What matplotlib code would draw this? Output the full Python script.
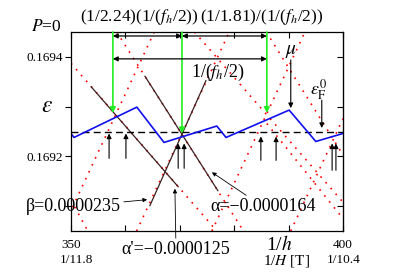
import matplotlib
matplotlib.use("Agg")
import matplotlib.pyplot as plt

plt.rcParams['font.family'] = 'Liberation Serif'
plt.rcParams['mathtext.fontset'] = 'stix'

# axes range: x is 1/h, y is energy
x_lim = [350, 400]
y_lim = [0.16905, 0.16945]
x_ticks = [350, 360, 370, 380, 390, 400]
y_ticks = [0.1691, 0.1692, 0.1693, 0.1694]

# Fermi level at P=0
eps_f0 = 0.169249

# chemical potential mu (blue sawtooth)
mu_x = [350.0, 350.55, 362.1, 367.1, 376.8, 378.5, 390.1, 395.0, 400.0]
mu_y = [0.169246, 0.169238, 0.169299, 0.169228, 0.169261, 0.169238,
        0.169293, 0.169230, 0.169246]

# Landau levels (red dotted), end points of each level line
lvl_x0 = [350.0, 358.4, 365.3, 350.0, 362.06, 372.7, 385.9, 386.0, 375.9, 390.4]
lvl_y0 = [0.169387, 0.16945, 0.16945, 0.169112, 0.16905, 0.16945, 0.16945,
          0.169266, 0.16905, 0.16905]
lvl_x1 = [376.8, 381.7, 350.0, 353.1, 379.1, 400.0, 400.0, 400.0, 393.0, 400.0]
lvl_y1 = [0.16905, 0.16905, 0.169091, 0.16905, 0.16945, 0.169108, 0.169203,
          0.169075, 0.16945, 0.169276]

# levels with slope alpha', alpha, beta (black solid parts)
seg_x0 = [353.7, 363.6, 364.5]
seg_y0 = [0.169340, 0.169361, 0.169101]
seg_x1 = [369.7, 377.0, 374.8]
seg_y1 = [0.169139, 0.169131, 0.169352]

# green arrows: crossing points of levels
cross_x = [357.7, 370.4, 386.0]
cross_y = [0.169287, 0.169246, 0.169287]

# short black arrows below the Fermi level
up_x = [357.0, 360.1, 369.7, 370.8, 384.9, 387.7, 398.0, 398.7]
up_y0 = [0.169196, 0.169196, 0.169176, 0.169176, 0.169192, 0.169192,
         0.169172, 0.169172]
up_y1 = [0.169246, 0.169246, 0.169226, 0.169226, 0.169240, 0.169240,
         0.169226, 0.169226]

fig = plt.figure(figsize=(3.99, 2.78), dpi=100)
ax = fig.add_axes([71 / 399, 47 / 278, 272 / 399, 199 / 278])

for i in range(len(lvl_x0)):
    ax.plot([lvl_x0[i], lvl_x1[i]], [lvl_y0[i], lvl_y1[i]], color='red',
            lw=1.2, linestyle=(0, (1, 3.6)))
for i in range(len(seg_x0)):
    ax.plot([seg_x0[i], seg_x1[i]], [seg_y0[i], seg_y1[i]], color='#3a2020', lw=0.9)

ax.axhline(eps_f0, color='k', lw=1.0, linestyle=(0, (5, 3)))
ax.plot(mu_x, mu_y, color='#1010ee', lw=1.2)

arr = dict(arrowstyle='-|>', color='k', lw=0.8, mutation_scale=7,
           shrinkA=0, shrinkB=0)
for i in range(len(up_x)):
    ax.annotate('', xy=(up_x[i], up_y1[i]), xytext=(up_x[i], up_y0[i]),
                arrowprops=arr)

garr = dict(arrowstyle='-|>', color='#22ee22', lw=1.2, mutation_scale=8,
            shrinkA=0, shrinkB=0)
for i in range(len(cross_x)):
    ax.annotate('', xy=(cross_x[i], cross_y[i]), xytext=(cross_x[i], y_lim[1]),
                arrowprops=garr)

darr = dict(arrowstyle='<|-|>', color='k', lw=0.9, mutation_scale=7,
            shrinkA=0, shrinkB=0)
ax.annotate('', xy=(cross_x[1], 0.169442), xytext=(cross_x[0], 0.169442),
            arrowprops=darr)
ax.annotate('', xy=(cross_x[2], 0.169442), xytext=(cross_x[1], 0.169442),
            arrowprops=darr)
ax.annotate('', xy=(cross_x[2], 0.169396), xytext=(cross_x[0], 0.169396),
            arrowprops=darr)
ax.text(377.0, 0.169368, r'1/($f_h$/2)', fontsize=13, ha='center', va='center')

# mu and eps_F labels
ax.annotate('', xy=(390.4, 0.169297), xytext=(390.4, 0.169394), arrowprops=arr)
ax.text(390.4, 0.169410, r'$\mu$', fontsize=14, ha='center', va='center')
ax.annotate('', xy=(396.1, 0.169257), xytext=(396.1, 0.169313), arrowprops=arr)
ax.text(395.5, 0.169335, r'$\varepsilon_{\rm F}^{0}$', fontsize=13,
        ha='center', va='center')

# slope labels
thin = dict(arrowstyle='-|>', color='k', lw=0.6, mutation_scale=6,
            shrinkA=0, shrinkB=0)
ax.annotate('\u03b2=0.0000235', xy=(364.0, 0.169113), xytext=(359.2, 0.169099),
            fontsize=13, ha='right', va='center', arrowprops=thin,
            annotation_clip=False)
ax.annotate('\u03b1=\u22120.0000164', xy=(375.9, 0.169168), xytext=(385.3, 0.169099),
            fontsize=13, ha='center', va='center', arrowprops=thin)
ax.annotate('\u03b1\'=\u22120.0000125', xy=(369.1, 0.169135), xytext=(369.3, 0.169030),
            fontsize=13, ha='center', va='top', arrowprops=thin,
            annotation_clip=False)

ax.set_xlim(x_lim)
ax.set_ylim(y_lim)
ax.set_xticks(x_ticks)
ax.set_xticklabels([])
ax.set_yticks(y_ticks)
ax.set_yticklabels(['', '0.1692', '', '0.1694'], fontsize=9.5)
ax.tick_params(axis='x', direction='in', top=True, length=4, width=0.8)
ax.tick_params(axis='y', direction='out', length=4, width=0.8, pad=2)
ax2 = ax.secondary_yaxis('right')
ax2.set_yticks(y_ticks)
ax2.set_yticklabels([])
ax2.tick_params(direction='in', length=4, width=0.8)
for s in ax.spines.values():
    s.set_linewidth(0.9)

# texts outside the axes
fig.text(46 / 399, 1 - 27 / 278, r'$P$=0', fontsize=12.5, ha='center', va='center')
fig.text(139 / 399, 1 - 17 / 278, r'(1/2.24)(1/($f_h$/2))', fontsize=12.5,
         ha='center', va='center')
fig.text(262 / 399, 1 - 17 / 278, r'(1/1.81)/(1/($f_h$/2))', fontsize=12.5,
         ha='center', va='center')
fig.text(47 / 399, 1 - 106 / 278, r'$\varepsilon$', fontsize=17, ha='center', va='center')
fig.text(71 / 399, 1 - 245 / 278, '350', fontsize=9.5, ha='center', va='center')
fig.text(76 / 399, 1 - 260 / 278, '1/11.8', fontsize=9.5, ha='center', va='center')
fig.text(343 / 399, 1 - 245 / 278, '400', fontsize=9.5, ha='center', va='center')
fig.text(344 / 399, 1 - 260 / 278, '1/10.4', fontsize=9.5, ha='center', va='center')
fig.text(279 / 399, 1 - 245 / 278, r'1/$h$', fontsize=14, ha='center', va='center')
fig.text(286 / 399, 1 - 261 / 278, r'1/$H$ [T]', fontsize=11, ha='center', va='center')

fig.savefig('out.png', dpi=100)
